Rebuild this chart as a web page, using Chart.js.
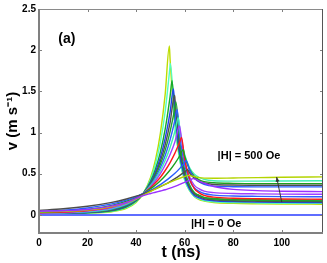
<!DOCTYPE html>
<html>
<head>
<meta charset="utf-8">
<script src="https://cdn.jsdelivr.net/npm/chart.js@4"></script>
<style>
  html, body { margin: 0; padding: 0; background: #fff; }
  #wrap { width: 327px; height: 263px; }
</style>
</head>
<body>
<div id="wrap"><canvas id="chart" width="327" height="263"></canvas></div>
<script>
// time grid (ns) shared by every curve
const times = [0, 10, 20, 30, 36, 40, 43, 46, 48, 50, 52, 54, 56, 58, 60, 62, 64, 66, 68, 72, 80, 90, 100, 117];

// velocity (m/s), one row per field value
const series = [
  [0.045, 0.05, 0.065, 0.11, 0.15, 0.2, 0.235, 0.26, 0.275, 0.29, 0.305, 0.325, 0.345, 0.37, 0.395, 0.42, 0.438, 0.41, 0.385, 0.345, 0.31, 0.295, 0.287, 0.282],
  [0.035, 0.042, 0.058, 0.1, 0.145, 0.19, 0.24, 0.285, 0.315, 0.345, 0.372, 0.398, 0.422, 0.445, 0.466, 0.479, 0.465, 0.452, 0.446, 0.445, 0.448, 0.452, 0.457, 0.462],
  [0.055, 0.074, 0.105, 0.152, 0.193, 0.227, 0.256, 0.29, 0.315, 0.342, 0.372, 0.405, 0.441, 0.48, 0.522, 0.511, 0.445, 0.408, 0.387, 0.369, 0.362, 0.36, 0.36, 0.36],
  [0.04, 0.056, 0.084, 0.133, 0.18, 0.222, 0.26, 0.3, 0.332, 0.368, 0.41, 0.455, 0.505, 0.565, 0.635, 0.547, 0.451, 0.399, 0.372, 0.349, 0.342, 0.34, 0.34, 0.34],
  [0.031, 0.043, 0.067, 0.116, 0.166, 0.215, 0.26, 0.318, 0.363, 0.415, 0.476, 0.545, 0.625, 0.718, 0.716, 0.552, 0.469, 0.425, 0.403, 0.39, 0.383, 0.38, 0.38, 0.38],
  [0.026, 0.034, 0.054, 0.099, 0.152, 0.206, 0.26, 0.331, 0.389, 0.457, 0.539, 0.635, 0.75, 0.887, 0.676, 0.44, 0.318, 0.268, 0.236, 0.215, 0.202, 0.196, 0.193, 0.19],
  [0.023, 0.029, 0.045, 0.086, 0.14, 0.198, 0.26, 0.343, 0.414, 0.5, 0.605, 0.733, 0.889, 1.07, 0.662, 0.462, 0.359, 0.316, 0.288, 0.27, 0.26, 0.255, 0.252, 0.25],
  [0.022, 0.026, 0.039, 0.078, 0.132, 0.193, 0.26, 0.353, 0.435, 0.536, 0.663, 0.819, 1.015, 1.04, 0.733, 0.576, 0.495, 0.454, 0.432, 0.415, 0.41, 0.41, 0.412, 0.415],
  [0.021, 0.025, 0.035, 0.071, 0.124, 0.188, 0.26, 0.363, 0.456, 0.573, 0.722, 0.911, 1.152, 0.963, 0.61, 0.425, 0.327, 0.286, 0.26, 0.24, 0.23, 0.225, 0.222, 0.22],
  [0.021, 0.023, 0.032, 0.065, 0.117, 0.183, 0.26, 0.374, 0.478, 0.611, 0.786, 1.011, 1.302, 0.886, 0.546, 0.367, 0.273, 0.236, 0.21, 0.193, 0.182, 0.176, 0.173, 0.17],
  [0.021, 0.022, 0.03, 0.06, 0.111, 0.179, 0.26, 0.383, 0.499, 0.652, 0.854, 1.12, 1.409, 0.815, 0.505, 0.34, 0.255, 0.222, 0.198, 0.183, 0.172, 0.166, 0.163, 0.16],
  [0.02, 0.022, 0.028, 0.055, 0.105, 0.174, 0.26, 0.394, 0.524, 0.698, 0.932, 1.246, 1.287, 0.746, 0.463, 0.314, 0.236, 0.207, 0.186, 0.172, 0.162, 0.156, 0.153, 0.15],
  [0.02, 0.021, 0.026, 0.049, 0.097, 0.168, 0.26, 0.41, 0.558, 0.762, 1.044, 1.435, 1.176, 0.714, 0.466, 0.333, 0.262, 0.235, 0.213, 0.2, 0.19, 0.185, 0.182, 0.18],
  [0.02, 0.021, 0.024, 0.042, 0.087, 0.159, 0.26, 0.435, 0.62, 0.88, 1.26, 1.81, 1.095, 0.66, 0.424, 0.296, 0.225, 0.195, 0.175, 0.158, 0.15, 0.145, 0.142, 0.14],
  [0.02, 0.02, 0.022, 0.038, 0.079, 0.152, 0.26, 0.456, 0.67, 0.99, 1.47, 1.89, 1.105, 0.67, 0.43, 0.297, 0.222, 0.185, 0.168, 0.15, 0.14, 0.135, 0.132, 0.13]
];

// the peak of each curve (falls between grid times)
const peakTimes = [63.5, 61.5, 61.2, 60.6, 59.4, 58.7, 57.9, 57.4, 56.9, 56.4, 55.9, 55.4, 54.8, 54.1, 53.7];
const peakValues = [0.44, 0.48, 0.55, 0.66, 0.79, 0.94, 1.08, 1.18, 1.28, 1.37, 1.45, 1.53, 1.63, 1.84, 2.05];

const colors = ['#9b30ff', '#b4d400', '#4d4d4d', '#2a5cff', '#1ea01e', '#ff1a1a', '#a040ff', '#40f0b0',
                '#3060ff', '#20a030', '#505050', '#2040f0', '#18a828', '#50ffc0', '#bddc00'];

// |H| = 0 Oe : no motion
const zeroFieldTimes = [0, 117];
const zeroFieldValues = [0, 0];

const xTicks = [0, 20, 40, 60, 80, 100];
const yTicks = [0, 0.5, 1, 1.5, 2, 2.5];

const FONT = '"Liberation Sans", Arial, Helvetica, sans-serif';

const datasets = series.map((vals, i) => {
  const pts = times.map((t, j) => ({ x: t, y: vals[j] }));
  pts.push({ x: peakTimes[i], y: peakValues[i] });
  pts.sort((a, b) => a.x - b.x);
  return {
    data: pts,
    borderColor: colors[i],
    borderWidth: 1.4,
    pointRadius: 0,
    fill: false,
    cubicInterpolationMode: 'monotone'
  };
});

datasets.push({
  data: zeroFieldTimes.map((t, j) => ({ x: t, y: zeroFieldValues[j] })),
  borderColor: '#2a3cff',
  borderWidth: 1.5,
  pointRadius: 0,
  fill: false
});

// frame, inward ticks, arrow and text annotations (MATLAB look)
const decorations = {
  id: 'decorations',
  afterDraw(chart) {
    const ctx = chart.ctx;
    const a = chart.chartArea;
    const x = chart.scales.x;
    const y = chart.scales.y;
    ctx.save();

    ctx.strokeStyle = '#808080';
    ctx.lineWidth = 1;
    xTicks.forEach(v => {
      const px = Math.round(x.getPixelForValue(v)) + 0.5;
      ctx.beginPath();
      ctx.moveTo(px, a.bottom); ctx.lineTo(px, a.bottom - 3);
      ctx.moveTo(px, a.top); ctx.lineTo(px, a.top + 3);
      ctx.stroke();
    });
    yTicks.forEach(v => {
      const py = Math.round(y.getPixelForValue(v)) + 0.5;
      ctx.beginPath();
      ctx.moveTo(a.left, py); ctx.lineTo(a.left + 3, py);
      ctx.moveTo(a.right, py); ctx.lineTo(a.right - 3, py);
      ctx.stroke();
    });

    // box
    ctx.strokeStyle = '#8a8a8a';
    ctx.lineWidth = 1;
    ctx.beginPath();
    ctx.moveTo(a.left, a.top + 0.5); ctx.lineTo(a.right, a.top + 0.5);
    ctx.stroke();
    ctx.strokeStyle = '#555';
    ctx.beginPath();
    ctx.moveTo(a.right - 0.5, a.top); ctx.lineTo(a.right - 0.5, a.bottom);
    ctx.stroke();
    ctx.strokeStyle = '#808080';
    ctx.lineWidth = 2;
    ctx.beginPath();
    ctx.moveTo(a.left, a.top); ctx.lineTo(a.left, a.bottom);
    ctx.lineTo(a.right, a.bottom);
    ctx.stroke();

    // arrow towards increasing field
    const x0 = x.getPixelForValue(100), y0 = y.getPixelForValue(0.155);
    const x1 = x.getPixelForValue(97.9), y1 = y.getPixelForValue(0.46);
    ctx.strokeStyle = '#333';
    ctx.fillStyle = '#333';
    ctx.lineWidth = 1;
    ctx.beginPath();
    ctx.moveTo(x0, y0); ctx.lineTo(x1, y1);
    ctx.stroke();
    const ang = Math.atan2(y1 - y0, x1 - x0);
    ctx.beginPath();
    ctx.moveTo(x1, y1);
    ctx.lineTo(x1 - 5 * Math.cos(ang - 0.4), y1 - 5 * Math.sin(ang - 0.4));
    ctx.lineTo(x1 - 5 * Math.cos(ang + 0.4), y1 - 5 * Math.sin(ang + 0.4));
    ctx.closePath();
    ctx.fill();

    // labels
    ctx.fillStyle = '#000';
    ctx.textAlign = 'center';
    ctx.textBaseline = 'middle';
    ctx.font = 'bold 14px ' + FONT;
    ctx.fillText('(a)', x.getPixelForValue(11.5), y.getPixelForValue(2.14));
    ctx.font = 'bold 11px ' + FONT;
    ctx.fillText('|H| = 500 Oe', x.getPixelForValue(86.5), y.getPixelForValue(0.72));
    ctx.fillText('|H| = 0 Oe', x.getPixelForValue(73), y.getPixelForValue(-0.11));

    ctx.restore();
  }
};

new Chart(document.getElementById('chart'), {
  type: 'line',
  data: { datasets: datasets },
  options: {
    responsive: false,
    animation: false,
    layout: { padding: { top: 8, right: 4, left: 0, bottom: 0 } },
    plugins: {
      legend: { display: false },
      tooltip: { enabled: false }
    },
    scales: {
      x: {
        type: 'linear',
        min: 0,
        max: 117,
        afterBuildTicks: s => { s.ticks = xTicks.map(v => ({ value: v })); },
        afterFit: s => { s.height = 30; },
        grid: { display: false, drawTicks: false },
        border: { display: false },
        ticks: {
          includeBounds: false,
          autoSkip: false,
          maxRotation: 0,
          padding: 4,
          color: '#000',
          font: { family: FONT, size: 10, weight: 'bold' }
        },
        title: {
          display: true,
          text: 't (ns)',
          color: '#000',
          padding: { top: 0, bottom: 1 },
          font: { family: FONT, size: 16, weight: 'bold' }
        }
      },
      y: {
        type: 'linear',
        min: -0.22,
        max: 2.5,
        afterBuildTicks: s => { s.ticks = yTicks.map(v => ({ value: v })); },
        afterFit: s => { s.width = 39; },
        grid: { display: false, drawTicks: false },
        border: { display: false },
        ticks: {
          includeBounds: false,
          padding: 3,
          color: '#000',
          font: { family: FONT, size: 10, weight: 'bold' },
          callback: v => String(v)
        },
        title: {
          display: true,
          text: 'v (m s\u207B\u00B9)',
          color: '#000',
          padding: { top: 4, bottom: 0 },
          font: { family: FONT, size: 15, weight: 'bold' }
        }
      }
    }
  },
  plugins: [decorations]
});
</script>
</body>
</html>
